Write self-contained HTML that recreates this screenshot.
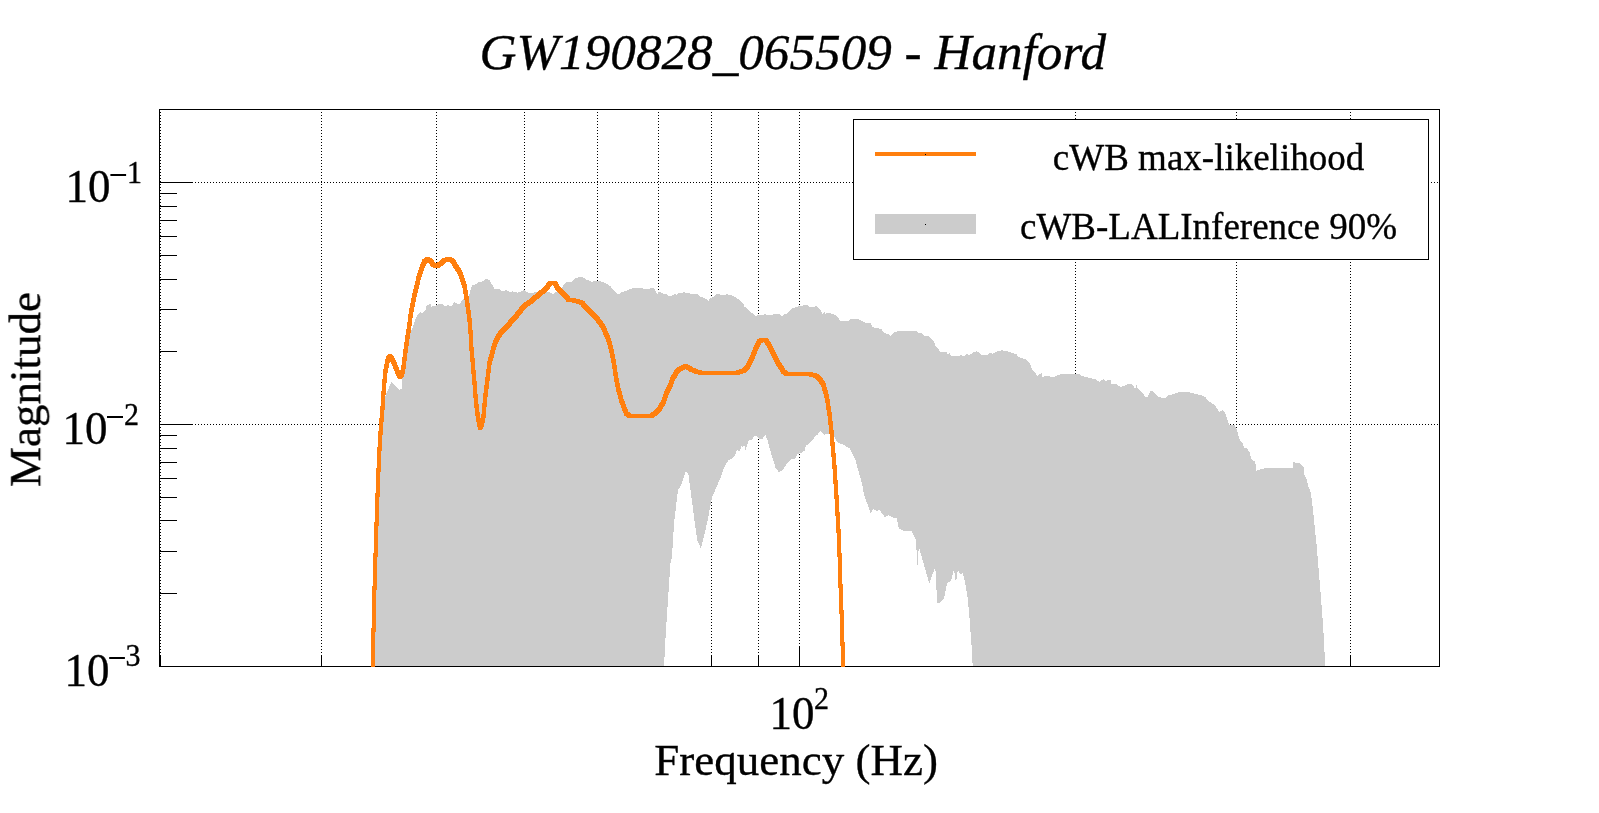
<!DOCTYPE html>
<html><head><meta charset="utf-8"><title>GW190828_065509 - Hanford</title>
<style>html,body{margin:0;padding:0;background:#fff;overflow:hidden;}svg{display:block;}</style>
</head><body>
<svg width="1599" height="813" viewBox="0 0 1599 813">
<rect x="0" y="0" width="1599" height="813" fill="#fff"/>
<g stroke="#000" stroke-width="1" stroke-dasharray="1 2" shape-rendering="crispEdges"><line x1="160.5" y1="109" x2="160.5" y2="666"/><line x1="321.5" y1="109" x2="321.5" y2="666"/><line x1="436.5" y1="109" x2="436.5" y2="666"/><line x1="524.5" y1="109" x2="524.5" y2="666"/><line x1="597.5" y1="109" x2="597.5" y2="666"/><line x1="658.5" y1="109" x2="658.5" y2="666"/><line x1="711.5" y1="109" x2="711.5" y2="666"/><line x1="758.5" y1="109" x2="758.5" y2="666"/><line x1="799.5" y1="109" x2="799.5" y2="666"/><line x1="1075.5" y1="109" x2="1075.5" y2="666"/><line x1="1236.5" y1="109" x2="1236.5" y2="666"/><line x1="1350.5" y1="109" x2="1350.5" y2="666"/><line x1="159" y1="182.5" x2="1439" y2="182.5"/><line x1="159" y1="424.5" x2="1439" y2="424.5"/></g>
<g stroke="#000" stroke-width="1" shape-rendering="crispEdges"><line x1="159" y1="182.5" x2="193" y2="182.5"/><line x1="159" y1="424.5" x2="193" y2="424.5"/><line x1="159" y1="193.5" x2="177" y2="193.5"/><line x1="159" y1="206.5" x2="177" y2="206.5"/><line x1="159" y1="220.5" x2="177" y2="220.5"/><line x1="159" y1="236.5" x2="177" y2="236.5"/><line x1="159" y1="255.5" x2="177" y2="255.5"/><line x1="159" y1="279.5" x2="177" y2="279.5"/><line x1="159" y1="309.5" x2="177" y2="309.5"/><line x1="159" y1="351.5" x2="177" y2="351.5"/><line x1="159" y1="435.5" x2="177" y2="435.5"/><line x1="159" y1="448.5" x2="177" y2="448.5"/><line x1="159" y1="462.5" x2="177" y2="462.5"/><line x1="159" y1="478.5" x2="177" y2="478.5"/><line x1="159" y1="497.5" x2="177" y2="497.5"/><line x1="159" y1="520.5" x2="177" y2="520.5"/><line x1="159" y1="551.5" x2="177" y2="551.5"/><line x1="159" y1="593.5" x2="177" y2="593.5"/><line x1="160.5" y1="655" x2="160.5" y2="666"/><line x1="321.5" y1="655" x2="321.5" y2="666"/><line x1="436.5" y1="655" x2="436.5" y2="666"/><line x1="524.5" y1="655" x2="524.5" y2="666"/><line x1="597.5" y1="655" x2="597.5" y2="666"/><line x1="658.5" y1="655" x2="658.5" y2="666"/><line x1="711.5" y1="655" x2="711.5" y2="666"/><line x1="758.5" y1="655" x2="758.5" y2="666"/><line x1="799.5" y1="646" x2="799.5" y2="666"/><line x1="1075.5" y1="655" x2="1075.5" y2="666"/><line x1="1236.5" y1="655" x2="1236.5" y2="666"/><line x1="1350.5" y1="655" x2="1350.5" y2="666"/></g>
<path d="M375.0,666.0 L375.6,600.0 L376.6,560.0 L377.6,520.0 L379.0,480.0 L380.6,450.0 L382.0,430.0 L383.5,410.0 L385.2,396.5 L391.5,381.8 L394.9,385.5 L399.8,389.8 L401.5,389.0 L402.0,380.0 L404.0,365.0 L406.0,351.7 L408.0,340.0 L410.3,332.0 L411.8,330.0 L414.8,320.9 L418.2,314.0 L420.2,312.0 L422.6,313.0 L426.1,309.0 L426.6,305.6 L430.5,304.1 L431.5,306.6 L434.4,306.1 L439.4,304.1 L443.3,304.6 L445.8,306.6 L447.2,305.1 L451.2,306.1 L454.6,302.2 L459.0,304.6 L463.0,299.2 L466.0,297.5 L468.6,296.9 L471.1,287.7 L472.9,284.6 L475.4,284.6 L478.5,282.1 L481.5,281.5 L484.0,280.9 L486.4,278.5 L489.5,280.3 L492.0,284.6 L494.4,288.9 L499.4,288.9 L501.8,291.4 L506.7,290.1 L509.2,292.0 L512.9,291.4 L517.8,292.6 L524.0,290.1 L528.9,293.2 L533.8,292.6 L538.7,291.4 L543.6,293.8 L546.2,292.1 L549.2,291.5 L552.9,294.6 L556.0,292.1 L560.9,288.5 L564.6,284.1 L567.1,281.7 L570.8,282.3 L575.7,278.0 L581.8,276.8 L586.7,279.8 L591.7,281.7 L597.8,280.8 L604.0,282.3 L610.1,286.0 L615.0,291.5 L618.7,294.6 L621.2,292.1 L626.1,290.9 L630.0,289.1 L632.4,288.3 L636.5,287.5 L642.6,288.3 L643.4,289.1 L649.9,289.1 L650.7,288.0 L654.0,288.3 L655.2,291.1 L657.6,294.0 L658.5,292.0 L660.9,292.4 L663.3,293.6 L666.6,294.4 L669.0,296.0 L671.5,296.0 L674.3,294.0 L676.3,294.8 L678.8,293.2 L682.0,293.2 L683.7,291.3 L686.1,293.2 L691.8,293.6 L698.3,294.4 L700.3,296.8 L703.2,297.6 L706.4,299.3 L708.5,300.9 L710.1,298.5 L713.7,296.8 L716.2,294.4 L719.4,294.4 L721.9,294.8 L727.6,294.4 L732.4,295.6 L735.7,297.6 L739.8,300.1 L743.0,303.3 L744.6,307.0 L747.1,308.2 L752.0,313.1 L756.0,315.9 L759.9,314.8 L765.6,314.4 L767.2,315.2 L774.5,314.4 L779.4,314.4 L781.8,316.0 L784.3,314.4 L786.7,314.0 L790.0,310.3 L792.4,308.3 L795.7,307.1 L798.9,306.3 L803.0,305.4 L807.8,305.4 L809.5,306.7 L813.5,307.5 L815.2,306.3 L816.4,305.4 L819.2,308.3 L822.5,313.6 L824.5,312.4 L824.9,314.0 L829.0,312.4 L831.4,313.6 L836.3,315.6 L840.4,320.9 L848.5,320.9 L851.7,318.5 L856.6,318.5 L860.7,320.1 L864.8,322.5 L870.4,323.3 L872.9,327.4 L877.0,327.8 L880.0,329.2 L882.0,329.6 L883.3,332.1 L886.5,334.1 L888.5,334.1 L890.6,336.0 L894.2,332.1 L898.3,331.3 L916.6,331.3 L919.0,332.9 L921.5,333.3 L924.3,336.1 L928.8,336.3 L930.8,338.6 L933.7,341.0 L935.3,345.5 L938.5,349.1 L940.2,352.0 L946.7,352.0 L947.5,354.0 L949.5,353.2 L951.1,356.1 L956.0,356.5 L958.0,356.1 L960.5,355.2 L964.6,356.1 L966.2,354.0 L969.4,354.8 L971.5,354.0 L973.5,352.4 L976.3,351.2 L978.8,352.4 L981.2,354.8 L988.1,354.8 L989.8,353.2 L993.0,353.6 L995.4,352.4 L997.5,350.8 L1002.8,350.4 L1006.8,351.2 L1010.7,352.2 L1013.1,353.4 L1016.4,354.2 L1018.0,357.1 L1021.3,357.9 L1026.5,359.5 L1029.4,362.8 L1032.6,370.1 L1035.5,373.3 L1037.1,375.8 L1041.6,373.3 L1042.0,377.0 L1045.2,376.2 L1048.9,376.2 L1052.2,377.0 L1055.0,376.6 L1057.8,375.0 L1061.1,374.1 L1079.8,374.1 L1081.8,375.8 L1086.3,377.0 L1090.4,378.2 L1095.2,379.0 L1099.3,381.9 L1104.2,378.6 L1105.0,381.1 L1108.3,380.2 L1110.7,380.2 L1111.5,383.9 L1117.2,383.5 L1118.0,386.3 L1122.1,386.7 L1127.0,384.3 L1131.4,384.3 L1133.7,386.3 L1135.3,389.1 L1136.5,385.0 L1137.7,388.3 L1140.6,391.5 L1143.0,393.6 L1145.4,396.8 L1147.5,396.8 L1150.3,391.1 L1153.2,391.5 L1156.0,394.0 L1158.0,396.4 L1161.7,397.6 L1165.4,398.0 L1168.2,395.2 L1173.1,394.4 L1178.0,392.4 L1189.3,392.4 L1194.2,393.6 L1199.9,394.8 L1205.6,397.2 L1208.0,400.9 L1211.3,402.5 L1215.4,406.2 L1219.4,412.3 L1222.3,410.2 L1224.3,411.1 L1225.5,413.9 L1227.6,420.4 L1229.3,425.4 L1234.7,425.4 L1236.7,428.9 L1238.2,434.7 L1240.2,441.1 L1242.6,442.6 L1244.1,448.0 L1247.0,448.5 L1249.5,452.4 L1252.0,460.3 L1255.4,461.3 L1255.9,471.1 L1260.3,469.2 L1265.2,468.2 L1293.3,468.2 L1293.3,462.3 L1299.6,463.3 L1303.6,467.2 L1304.1,474.1 L1306.5,479.0 L1308.5,486.9 L1310.5,491.8 L1311.9,500.0 L1313.2,512.2 L1316.6,545.4 L1319.4,578.6 L1322.1,611.8 L1324.3,645.1 L1325.0,666.0 L972.7,666.0 L971.7,647.8 L969.7,620.2 L967.8,598.6 L964.8,580.9 L962.8,573.0 L960.9,575.0 L957.9,570.0 L955.9,582.8 L954.0,569.1 L951.0,580.9 L947.1,582.8 L944.1,598.6 L940.2,602.5 L937.2,602.5 L935.3,567.1 L932.3,575.0 L929.4,583.8 L923.5,563.1 L919.5,549.4 L918.0,551.3 L917.2,574.0 L916.6,551.3 L915.6,539.5 L911.7,530.7 L903.8,530.7 L898.9,528.7 L896.6,518.0 L891.7,517.4 L888.6,514.9 L884.9,517.4 L883.1,514.9 L879.4,510.0 L876.9,511.2 L873.2,508.8 L870.8,513.7 L868.3,506.3 L865.8,500.2 L863.4,491.5 L862.2,484.2 L859.7,475.5 L857.2,466.9 L855.4,459.5 L852.3,453.4 L849.8,448.5 L846.2,446.6 L842.5,444.2 L840.0,443.5 L837.4,442.3 L834.5,437.1 L829.3,434.2 L824.1,434.6 L821.9,432.0 L819.7,431.2 L817.5,434.9 L816.0,434.9 L813.8,438.6 L809.4,443.0 L805.7,446.0 L804.9,450.4 L802.0,452.6 L797.6,454.1 L794.6,459.3 L790.9,459.3 L785.8,465.2 L782.8,469.6 L779.1,472.6 L775.4,467.4 L772.5,457.8 L769.5,448.2 L767.3,439.4 L765.5,435.3 L763.6,436.8 L762.1,439.4 L759.2,438.6 L757.0,436.4 L755.1,435.7 L751.8,439.4 L748.1,440.8 L747.4,444.5 L745.5,450.4 L744.8,446.0 L743.0,446.7 L741.1,446.0 L740.0,451.5 L737.0,450.0 L734.1,457.0 L728.2,460.6 L723.7,468.0 L720.8,476.9 L716.4,487.2 L711.9,497.5 L707.5,521.1 L703.8,537.3 L700.9,548.4 L697.2,540.3 L694.2,518.2 L691.3,496.0 L688.3,473.9 L686.1,471.0 L683.2,478.3 L681.0,485.7 L678.0,490.1 L676.5,501.9 L674.3,521.1 L672.9,540.0 L672.1,556.0 L670.4,564.0 L668.8,588.0 L667.2,612.0 L665.6,636.0 L664.0,666.0 L375.0,666.0 Z" fill="#cccccc" stroke="none" shape-rendering="crispEdges"/>
<rect x="159.5" y="109.5" width="1280" height="557" fill="none" stroke="#000" stroke-width="1" shape-rendering="crispEdges"/>
<clipPath id="fc"><rect x="159" y="109" width="1281" height="558"/></clipPath>
<path clip-path="url(#fc)" d="M412.40,293.90 L408.90,311.50 L406.50,329.00 L404.20,344.00 L403.20,351.00 L402.00,361.50 L401.00,368.80 L400.13,371.23 L399.00,368.80 L396.40,361.50 L393.50,355.50 L391.90,354.20 L387.90,354.20 L386.30,356.00 L385.00,361.50 L383.50,368.80 L382.40,379.90 L381.50,391.00 L380.90,401.40 L379.00,423.90 L377.30,449.70 L376.20,475.60 L375.20,501.40 L374.20,532.50 L374.00,538.00 L373.00,568.00 L372.20,598.00 L372.00,618.00 L371.00,639.00 L371.00,643.00 L371.00,669.00 L375.00,669.00 L375.00,643.00 L376.00,622.00 L376.20,602.00 L377.00,572.00 L378.00,542.00 L378.20,536.50 L379.20,505.40 L380.20,479.60 L381.30,453.70 L383.00,427.90 L384.90,405.40 L385.50,395.00 L386.40,383.90 L387.50,372.80 L389.00,365.50 L390.12,360.78 L392.40,365.50 L395.00,372.80 L397.70,378.60 L401.70,378.60 L403.50,377.00 L405.00,372.80 L406.00,365.50 L407.20,355.00 L408.20,348.00 L410.50,333.00 L412.90,315.50 L416.40,297.90 L420.50,280.40 L424.20,268.70 L426.50,263.50 L427.73,262.51 L428.50,263.00 L431.00,266.50 L434.20,268.30 L438.20,268.30 L441.00,266.80 L443.90,264.60 L447.00,262.00 L448.21,261.71 L450.20,262.50 L453.60,267.70 L456.50,272.00 L459.00,276.90 L462.50,288.30 L464.50,299.80 L466.20,311.20 L467.60,322.60 L468.50,334.10 L469.20,347.00 L470.80,365.40 L472.30,382.90 L473.70,400.50 L475.70,418.00 L477.20,426.00 L478.40,429.80 L482.40,429.80 L483.80,426.00 L485.60,418.00 L487.10,400.50 L489.20,382.90 L491.50,365.40 L492.80,360.30 L495.60,350.00 L497.80,342.60 L502.80,335.00 L510.10,327.10 L517.50,319.00 L524.90,309.70 L527.50,307.20 L531.90,304.20 L536.80,300.00 L541.70,296.10 L546.60,291.70 L550.10,288.00 L552.30,285.20 L552.80,285.20 L555.50,289.70 L559.10,293.40 L562.80,297.70 L566.50,301.50 L571.50,302.50 L576.40,303.50 L580.10,305.00 L583.80,309.10 L587.40,312.40 L591.10,316.40 L594.80,320.40 L598.50,325.00 L600.50,328.30 L603.00,333.50 L606.20,340.50 L609.50,352.80 L612.00,365.00 L613.70,377.40 L616.00,389.70 L619.30,402.00 L622.70,411.80 L624.50,415.50 L627.00,418.00 L631.00,418.00 L649.00,418.00 L653.00,418.00 L656.60,415.80 L660.60,412.20 L665.00,405.00 L667.80,397.00 L671.60,389.00 L674.60,381.00 L678.40,374.60 L681.00,371.50 L683.80,369.80 L685.63,369.09 L686.00,369.20 L689.40,371.60 L695.00,373.80 L700.60,375.00 L704.60,375.00 L733.00,375.00 L737.00,375.00 L741.10,374.30 L745.80,372.60 L749.20,369.60 L752.80,362.40 L755.80,355.70 L758.50,348.90 L761.40,343.50 L763.34,342.23 L764.00,342.50 L768.20,348.90 L771.30,355.70 L774.50,362.40 L778.70,369.20 L781.50,373.50 L784.00,376.00 L788.00,376.00 L798.00,376.00 L808.00,376.30 L811.70,376.90 L815.60,378.80 L818.50,382.00 L821.30,386.70 L824.30,396.50 L826.00,406.40 L827.50,416.20 L828.70,426.10 L829.70,435.90 L830.40,445.70 L830.90,449.40 L832.70,471.50 L834.20,493.70 L835.50,515.80 L836.80,537.90 L837.50,557.00 L837.90,574.10 L838.90,596.30 L839.90,625.80 L840.80,655.30 L840.90,669.00 L844.90,669.00 L844.90,665.00 L844.80,651.30 L843.90,621.80 L842.90,592.30 L841.90,570.10 L841.50,553.00 L840.80,533.90 L839.50,511.80 L838.20,489.70 L836.70,467.50 L834.90,445.40 L834.40,441.70 L833.70,431.90 L832.70,422.10 L831.50,412.20 L830.00,402.40 L828.30,392.50 L825.30,382.70 L822.50,378.00 L819.60,374.80 L815.70,372.90 L812.00,372.30 L802.00,372.00 L798.00,372.00 L788.00,372.00 L785.50,369.50 L782.70,365.20 L778.50,358.40 L775.30,351.70 L772.20,344.90 L768.00,338.50 L766.00,337.70 L762.00,337.70 L760.00,337.80 L757.40,339.50 L754.50,344.90 L751.80,351.70 L748.80,358.40 L745.20,365.60 L741.80,368.60 L737.10,370.30 L733.00,371.00 L704.60,371.00 L699.00,369.80 L693.40,367.60 L690.00,365.20 L687.40,364.40 L683.40,364.40 L679.80,365.80 L677.00,367.50 L674.40,370.60 L670.60,377.00 L667.60,385.00 L663.80,393.00 L661.00,401.00 L656.60,408.20 L652.60,411.80 L649.00,414.00 L631.00,414.00 L628.50,411.50 L626.70,407.80 L623.30,398.00 L620.00,385.70 L617.70,373.40 L616.00,361.00 L613.50,348.80 L610.20,336.50 L607.00,329.50 L604.50,324.30 L602.50,321.00 L598.80,316.40 L595.10,312.40 L591.40,308.40 L587.80,305.10 L584.10,301.00 L580.40,299.50 L575.50,298.50 L570.50,297.50 L566.80,293.70 L563.10,289.40 L559.50,285.70 L556.80,281.20 L552.80,281.20 L552.30,281.20 L548.30,281.20 L546.10,284.00 L542.60,287.70 L537.70,292.10 L532.80,296.00 L527.90,300.20 L523.50,303.20 L520.90,305.70 L513.50,315.00 L506.10,323.10 L498.80,331.00 L493.80,338.60 L491.60,346.00 L488.80,356.30 L487.50,361.40 L485.20,378.90 L483.10,396.50 L481.60,414.00 L480.56,418.61 L479.70,414.00 L477.70,396.50 L476.30,378.90 L474.80,361.40 L473.20,343.00 L472.50,330.10 L471.60,318.60 L470.20,307.20 L468.50,295.80 L466.50,284.30 L463.00,272.90 L460.50,268.00 L457.60,263.70 L454.20,258.50 L450.70,257.10 L446.70,257.10 L443.00,258.00 L439.90,260.60 L437.00,262.80 L436.25,263.20 L435.00,262.50 L432.50,259.00 L429.50,257.10 L425.50,257.10 L422.50,259.50 L420.20,264.70 L416.50,276.40Z" fill="#ff7f0e" fill-rule="evenodd" stroke="none" shape-rendering="crispEdges"/>
<rect x="853.5" y="119.5" width="575" height="140" fill="#fff" stroke="#000" stroke-width="1" shape-rendering="crispEdges"/>
<rect x="875" y="152" width="101" height="4" fill="#ff7f0e"/>
<rect x="925" y="154" width="1" height="1" fill="#000"/>
<rect x="875" y="214" width="101" height="20" fill="#cccccc"/>
<rect x="925" y="224" width="1" height="1" fill="#000"/>
<g opacity="0.999" fill="#000" stroke="#000" stroke-width="0.35"><text transform="translate(1208.5,170)" font-family="Liberation Serif" font-size="37" text-anchor="middle">cWB max-likelihood</text><text transform="translate(1208.5,239)" font-family="Liberation Serif" font-size="37" text-anchor="middle">cWB-LALInference 90%</text><text transform="translate(479.5,69.2)" font-family="Liberation Serif" font-size="51.2" font-style="italic">GW190828_065509 - Hanford</text><text transform="translate(65.45,202) scale(1,1.045)" font-family="Liberation Serif" font-size="45">10</text><text transform="translate(127.05,183) scale(1,1.045)" font-family="Liberation Serif" font-size="30">1</text><text transform="translate(62.5,444) scale(1,1.045)" font-family="Liberation Serif" font-size="45">10</text><text transform="translate(124,425) scale(1,1.045)" font-family="Liberation Serif" font-size="30">2</text><text transform="translate(64.55,686) scale(1,1.045)" font-family="Liberation Serif" font-size="45">10</text><text transform="translate(125.5,666) scale(1,1.045)" font-family="Liberation Serif" font-size="30">3</text><text transform="translate(769.5,729) scale(1,1.045)" font-family="Liberation Serif" font-size="45">10</text><text transform="translate(813.95,709) scale(1,1.045)" font-family="Liberation Serif" font-size="30">2</text><text transform="translate(654.3,775)" font-family="Liberation Serif" font-size="45">Frequency (Hz)</text><text transform="translate(40.2,487) rotate(-90)" font-family="Liberation Serif" font-size="45">Magnitude</text></g>
<g fill="#000"><rect x="110.4" y="174" width="15.7" height="2"/><rect x="107" y="416" width="16" height="2"/><rect x="109.2" y="657" width="15.7" height="2"/></g>
</svg>
</body></html>
